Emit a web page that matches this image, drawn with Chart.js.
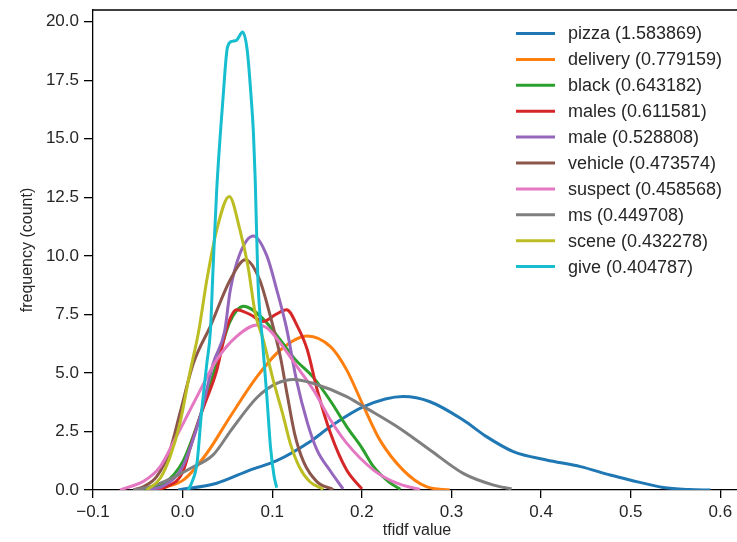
<!DOCTYPE html>
<html>
<head>
<meta charset="utf-8">
<script src="https://cdn.jsdelivr.net/npm/chart.js@4.4.1/dist/chart.umd.min.js"></script>
<style>
  html, body { margin: 0; padding: 0; background: #fff; overflow: hidden; }
  #wrap { width: 760px; height: 542px; }
</style>
</head>
<body>
<div id="wrap"><canvas id="kde" width="760" height="542"></canvas></div>
<script>
// terms and their tfidf scores shown in the legend
const terms  = ['pizza', 'delivery', 'black', 'males', 'male', 'vehicle', 'suspect', 'ms', 'scene', 'give'];
const scores = ['1.583869', '0.779159', '0.643182', '0.611581', '0.528808', '0.473574', '0.458568', '0.449708', '0.432278', '0.404787'];
const colors = ['#1f77b4', '#ff7f0e', '#2ca02c', '#d62728', '#9467bd', '#8c564b', '#e377c2', '#7f7f7f', '#bcbd22', '#17becf'];

// density curves (x = tfidf value, y = frequency)
const pizzaX = [-0.005, 0.038, 0.075, 0.105, 0.142, 0.165, 0.202, 0.246, 0.276, 0.313, 0.339, 0.369, 0.406, 0.444, 0.477, 0.499, 0.536, 0.565, 0.589];
const pizzaY = [0, 0.29, 0.85, 1.25, 2.06, 2.71, 3.56, 3.99, 3.77, 2.99, 2.28, 1.64, 1.28, 1.0, 0.64, 0.43, 0.11, 0.02, 0];

const deliveryX = [-0.03, -0.018, 0.001, 0.027, 0.053, 0.083, 0.109, 0.139, 0.165, 0.183, 0.202, 0.220, 0.246, 0.272, 0.298];
const deliveryY = [0, 0.14, 0.43, 1.57, 3.13, 4.84, 5.98, 6.58, 6.12, 5.13, 3.56, 2.14, 0.85, 0.14, 0];

const blackX = [-0.045, -0.02, 0.0, 0.02, 0.038, 0.053, 0.068, 0.09, 0.109, 0.125, 0.146, 0.165, 0.183, 0.2, 0.213, 0.23, 0.243];
const blackY = [0, 0.3, 1.2, 3.2, 5.4, 7.2, 7.85, 7.3, 6.41, 5.6, 4.8, 3.8, 2.71, 1.8, 1.0, 0.35, 0.03];

const malesX = [-0.035, -0.018, 0.0, 0.010, 0.021, 0.038, 0.049, 0.060, 0.075, 0.090, 0.104, 0.116, 0.128, 0.139, 0.150, 0.165, 0.183, 0.200];
const malesY = [0, 0.14, 0.75, 2.0, 3.3, 5.1, 6.9, 7.7, 7.5, 7.2, 7.5, 7.7, 7.0, 6.0, 4.3, 2.42, 0.85, 0.05];

const maleX = [-0.04, -0.02, 0.0, 0.02, 0.034, 0.047, 0.053, 0.064, 0.079, 0.094, 0.105, 0.116, 0.127, 0.139, 0.150, 0.165, 0.179];
const maleY = [0, 0.2, 1.0, 3.2, 5.4, 6.8, 8.5, 10.1, 10.85, 10.0, 8.55, 6.9, 4.7, 2.9, 1.7, 0.8, 0.05];

const vehicleX = [-0.055, -0.044, -0.029, -0.014, -0.003, 0.012, 0.031, 0.053, 0.070, 0.086, 0.098, 0.109, 0.117, 0.125, 0.135, 0.150, 0.168];
const vehicleY = [0, 0.14, 0.57, 1.71, 3.28, 5.41, 7.0, 8.97, 9.83, 8.97, 7.4, 5.7, 4.0, 2.4, 1.2, 0.35, 0.02];

const suspectX = [-0.07, -0.059, -0.044, -0.025, -0.007, 0.016, 0.038, 0.060, 0.083, 0.095, 0.109, 0.127, 0.146, 0.165, 0.183, 0.213, 0.239, 0.265];
const suspectY = [0, 0.14, 0.36, 1.0, 2.28, 3.99, 5.56, 6.55, 7.05, 6.9, 6.27, 5.3, 4.27, 2.99, 2.0, 0.85, 0.29, 0.02];

const msX = [-0.055, -0.035, -0.015, 0.01, 0.034, 0.055, 0.083, 0.105, 0.124, 0.146, 0.183, 0.202, 0.239, 0.276, 0.313, 0.347, 0.367];
const msY = [0, 0.15, 0.45, 0.95, 1.5, 2.6, 3.95, 4.55, 4.72, 4.55, 3.99, 3.56, 2.71, 1.71, 0.71, 0.21, 0.05];

const sceneX = [-0.04, -0.025, -0.014, -0.003, 0.008, 0.018, 0.027, 0.038, 0.052, 0.064, 0.073, 0.081, 0.090, 0.101, 0.112, 0.120, 0.130, 0.142, 0.157];
const sceneY = [0, 0.5, 1.42, 2.85, 4.99, 6.8, 8.97, 11.1, 12.54, 11.1, 9.54, 7.55, 6.41, 4.7, 3.2, 2.0, 1.0, 0.35, 0.03];

const giveX = [0.006, 0.010, 0.016, 0.021, 0.027, 0.031, 0.034, 0.038, 0.045, 0.050, 0.055, 0.060, 0.067, 0.072, 0.076, 0.079, 0.081, 0.084, 0.089, 0.094, 0.098, 0.102, 0.105];
const giveY = [0, 0.3, 1.14, 3.28, 5.41, 6.8, 9.5, 12.8, 16.7, 18.9, 19.16, 19.2, 19.56, 18.8, 17.0, 15.24, 13.25, 8.97, 6.4, 3.99, 1.85, 0.6, 0.1];

const curveX = [pizzaX, deliveryX, blackX, malesX, maleX, vehicleX, suspectX, msX, sceneX, giveX];
const curveY = [pizzaY, deliveryY, blackY, malesY, maleY, vehicleY, suspectY, msY, sceneY, giveY];

// axis ticks
const xTickValues = [-0.1, 0.0, 0.1, 0.2, 0.3, 0.4, 0.5, 0.6];
const yTickValues = [0, 2.5, 5, 7.5, 10, 12.5, 15, 17.5, 20];

const FONT = "'Liberation Sans', Arial, Helvetica, sans-serif";
const TEXT = '#262626';

const datasets = terms.map((t, i) => ({
  label: t + ' (' + scores[i] + ')',
  data: curveX[i].map((x, j) => ({ x: x, y: curveY[i][j] })),
  borderColor: colors[i],
  backgroundColor: colors[i],
  borderWidth: 3,
  pointRadius: 0,
  fill: false,
  cubicInterpolationMode: 'monotone',
  order: terms.length - i   // later terms drawn on top, like matplotlib
}));

// top / right spine
const frame = {
  id: 'frame',
  afterDatasetsDraw(chart) {
    const { ctx, chartArea: a } = chart;
    ctx.save();
    ctx.strokeStyle = '#000';
    ctx.lineWidth = 1.3;
    ctx.beginPath();
    ctx.moveTo(a.left, a.top);
    ctx.lineTo(a.right, a.top);
    ctx.lineTo(a.right, a.bottom);
    ctx.stroke();
    ctx.restore();
  }
};

// legend inside the axes, top right, no frame
const insideLegend = {
  id: 'insideLegend',
  afterDraw(chart) {
    const ctx = chart.ctx;
    ctx.save();
    ctx.font = '18px ' + FONT;
    ctx.textBaseline = 'middle';
    ctx.textAlign = 'left';
    chart.data.datasets.forEach((ds, i) => {
      const y = 33.5 + i * 25.9;
      ctx.strokeStyle = ds.borderColor;
      ctx.lineWidth = 3;
      ctx.beginPath();
      ctx.moveTo(516, y);
      ctx.lineTo(555, y);
      ctx.stroke();
      ctx.fillStyle = TEXT;
      ctx.fillText(ds.label, 568, y + 1);
    });
    ctx.restore();
  }
};

const fmt = v => (v < 0 ? '\u2212' : '') + Math.abs(v).toFixed(1);

new Chart(document.getElementById('kde'), {
  type: 'line',
  data: { datasets: datasets },
  options: {
    responsive: false,
    animation: false,
    devicePixelRatio: 1,
    layout: { padding: { top: 10, right: 19, left: 0, bottom: 0 } },
    plugins: {
      legend: { display: false },
      tooltip: { enabled: false }
    },
    scales: {
      x: {
        type: 'linear',
        min: -0.1,
        max: 0.623,
        afterBuildTicks: s => { s.ticks = xTickValues.map(v => ({ value: v })); },
        afterFit: s => { s.height = 52; s.paddingLeft = 0; s.paddingRight = 0; },
        border: { display: true, color: '#000', width: 1.3 },
        grid: { drawOnChartArea: false, drawTicks: true, tickLength: 8, color: '#000', lineWidth: 1.3 },
        ticks: { color: TEXT, font: { family: FONT, size: 17 }, padding: 4, maxRotation: 0, callback: v => fmt(v) },
        title: { display: true, text: 'tfidf value', color: TEXT, font: { family: FONT, size: 16 }, padding: { top: 0, bottom: 2 } }
      },
      y: {
        min: 0,
        max: 20.5,
        afterBuildTicks: s => { s.ticks = yTickValues.map(v => ({ value: v })); },
        afterFit: s => { s.width = 93; s.paddingTop = 0; s.paddingBottom = 0; },
        border: { display: true, color: '#000', width: 1.3 },
        grid: { drawOnChartArea: false, drawTicks: true, tickLength: 9, color: '#000', lineWidth: 1.3 },
        ticks: { color: TEXT, font: { family: FONT, size: 17 }, padding: 5, callback: v => v.toFixed(1) },
        title: { display: true, text: 'frequency (count)', color: TEXT, font: { family: FONT, size: 16 }, padding: { top: 18, bottom: 0 } }
      }
    }
  },
  plugins: [frame, insideLegend]
});
</script>
</body>
</html>
